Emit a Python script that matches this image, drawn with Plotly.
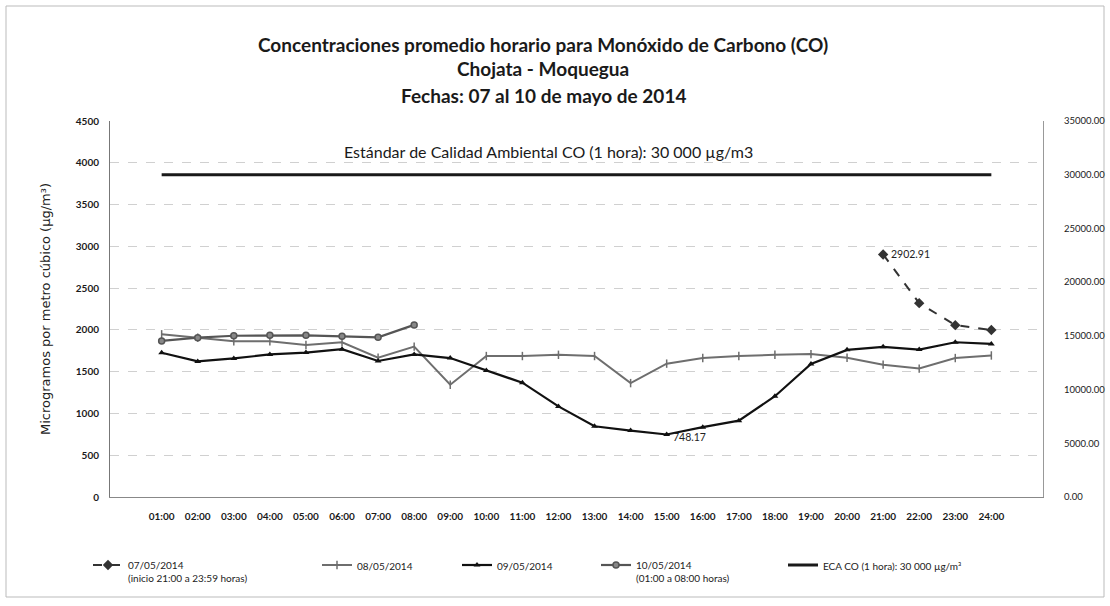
import plotly.graph_objects as go

hours = [f"{h:02d}:00" for h in range(1, 25)]

d0705 = [None]*20 + [2902.91, 2320, 2057, 1998]
d0805 = [1947, 1907, 1864, 1864, 1820, 1852, 1667, 1800, 1344, 1687, 1687, 1702,
         1687, 1363, 1596, 1663, 1687, 1702, 1710, 1667, 1584, 1537, 1663, 1694]
d0905 = [1726, 1623, 1658, 1706, 1729, 1769, 1628, 1706, 1663, 1513, 1368, 1084,
         847, 795, 748.17, 836, 914, 1206, 1592, 1761, 1797, 1765, 1852, 1832]
d1005 = [1868, 1907, 1930, 1935, 1935, 1923, 1911, 2060] + [None]*16
eca = [30000]*24

left_ticks = list(range(0, 4501, 500))
right_ticks = list(range(0, 35001, 5000))

PL, PR, PT, PB = 110, 1043, 121, 497
def px(x):
    return (x - PL) / (PR - PL)
def py(y):
    return (PB - y) / (PB - PT)

FONT = "Lato"

fig = go.Figure()
fig.add_trace(go.Scatter(x=hours, y=d0705, mode="lines+markers", name="07/05/2014<br>(inicio 21:00 a 23:59 horas)",
                         line=dict(color="#333333", width=2, dash="dash"),
                         marker=dict(symbol="diamond", size=8, color="#333333"), legend="legend6", showlegend=True))
fig.add_trace(go.Scatter(x=hours, y=d0805, mode="lines+markers", name="08/05/2014",
                         line=dict(color="#6e6e6e", width=2),
                         marker=dict(symbol="line-ns-open", size=6, color="#6e6e6e", line=dict(width=1.5, color="#6e6e6e")),
                         legend="legend2"))
fig.add_trace(go.Scatter(x=hours, y=d0905, mode="lines+markers", name="09/05/2014",
                         line=dict(color="#111111", width=2.2),
                         marker=dict(symbol="triangle-up", size=6, color="#111111"), legend="legend3"))
fig.add_trace(go.Scatter(x=hours, y=d1005, mode="lines+markers", name="10/05/2014<br>(01:00 a 08:00 horas)",
                         line=dict(color="#555555", width=2.2),
                         marker=dict(symbol="circle", size=6, color="#888888", line=dict(width=1.5, color="#555555")),
                         legend="legend4"))
fig.add_trace(go.Scatter(x=hours, y=eca, mode="lines", name="ECA CO (1 hora): 30 000 µg/m³",
                         line=dict(color="#1a1a1a", width=3), yaxis="y2", legend="legend5"))

leg_common = dict(orientation="h", yanchor="top", xanchor="left", bgcolor="rgba(0,0,0,0)",
                  font=dict(family=FONT, size=10, color="#222222"), valign="top", itemwidth=30)
ly = py(552)
fig.update_layout(
    legend6=dict(x=px(88), y=ly, **leg_common),
    legend2=dict(x=px(317), y=ly, **leg_common),
    legend3=dict(x=px(457), y=ly, **leg_common),
    legend4=dict(x=px(596), y=ly, **leg_common),
    legend5=dict(x=px(783), y=ly, **leg_common),
)

fig.update_layout(
    width=1110, height=606,
    margin=dict(l=PL, r=1110-PR, t=PT, b=606-PB, autoexpand=False),
    paper_bgcolor="white", plot_bgcolor="white",
    font=dict(family=FONT, color="#222222"),
    xaxis=dict(type="category", tickfont=dict(family=FONT, size=10, color="#1a1a1a", weight="bold"),
               showline=True, linecolor="#888888", linewidth=1, mirror=False, automargin=False,
               showgrid=False, ticks="", ticklen=0, ticklabelstandoff=10),
    yaxis=dict(range=[0, 4500], tickvals=left_ticks, tickfont=dict(family=FONT, size=10, color="#1a1a1a", weight="bold"),
               showline=True, linecolor="#777777", linewidth=1, ticklabelstandoff=8, automargin=False,
               showgrid=True, gridcolor="#d0d0d0", griddash="dash", gridwidth=1, zeroline=False,
               title=dict(text="Microgramos por metro cúbico (µg/m³)", font=dict(family="DejaVu Sans", size=13, color="#222222"),
                          standoff=22)),
    yaxis2=dict(range=[0, 35000], tickvals=right_ticks, tickformat=".2f", overlaying="y", side="right",
                tickfont=dict(family=FONT, size=9.5, color="#1a1a1a"), ticklabelstandoff=18, automargin=False,
                showline=True, linecolor="#999999", linewidth=1, showgrid=False, zeroline=False),
)

annots = [
    dict(text="<b>Concentraciones promedio horario para Monóxido de Carbono (CO)</b>", x=px(543), y=py(44)),
    dict(text="<b>Chojata - Moquegua</b>", x=px(543), y=py(69)),
    dict(text="<b>Fechas: 07 al 10 de mayo de 2014</b>", x=px(543), y=py(95)),
]
for a in annots:
    fig.add_annotation(text=a["text"], x=a["x"], y=a["y"], xref="paper", yref="paper",
                       showarrow=False, xanchor="center", yanchor="middle",
                       font=dict(family=FONT, size=19, color="#1a1a1a"))

fig.add_annotation(text="Estándar de Calidad Ambiental CO (1 hora): 30 000 µg/m3", x=px(548), y=py(151),
                   xref="paper", yref="paper", showarrow=False, xanchor="center", yanchor="middle",
                   font=dict(family=FONT, size=16, color="#1a1a1a"))

fig.add_annotation(text="2902.91", x=hours[20], y=d0705[20], xref="x", yref="y", showarrow=False,
                   xanchor="left", yanchor="middle", xshift=6, font=dict(family=FONT, size=10.5, color="#222222"))
fig.add_annotation(text="748.17", x=hours[14], y=d0905[14], xref="x", yref="y", showarrow=False,
                   xanchor="left", yanchor="middle", xshift=4, yshift=-3, font=dict(family=FONT, size=10.5, color="#222222"))

# outer frame
fig.add_shape(type="rect", xref="paper", yref="paper", x0=px(6), x1=px(1104), y0=py(597), y1=py(6),
              line=dict(color="#bbbbbb", width=1), fillcolor="rgba(0,0,0,0)", layer="below")

fig.write_html("out.html", config={"displayModeBar": False},
               post_script="document.body.style.margin='0';document.body.style.overflow='hidden';")
